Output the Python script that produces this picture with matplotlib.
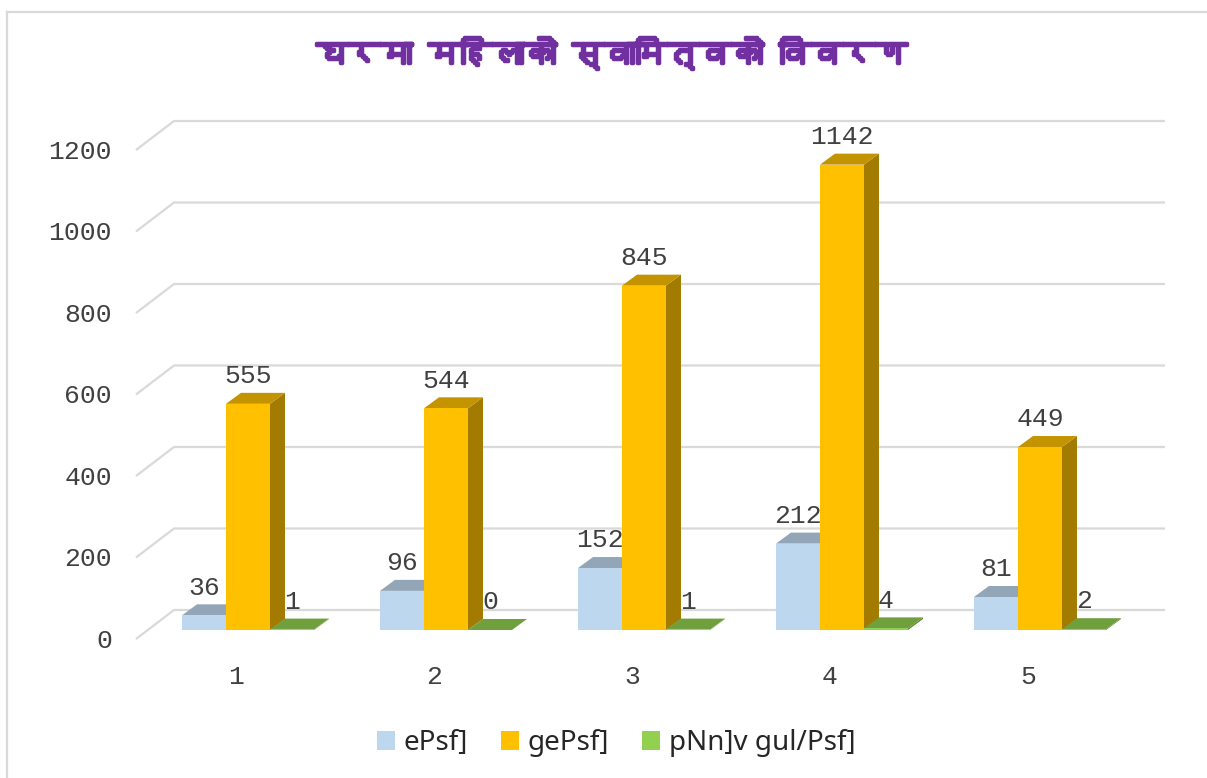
import matplotlib
matplotlib.use("Agg")
import matplotlib.pyplot as plt
import matplotlib.patheffects as pe
from matplotlib.patches import Polygon, Patch
from matplotlib.lines import Line2D
from matplotlib import font_manager, colors as mcolors

# --- data ---
title = "घरमा महिलाको स्वामित्वको विवरण"
categories = ["1", "2", "3", "4", "5"]
series_names = ["ePsf]", "gePsf]", "pNn]v gul/Psf]"]
series_1 = [36, 96, 152, 212, 81]
series_2 = [555, 544, 845, 1142, 449]
series_3 = [1, 0, 1, 4, 2]
series_colors = ["#BDD7EE", "#FFC000", "#92D050"]
yticks = [0, 200, 400, 600, 800, 1000, 1200]


def shade(c, f):
    r, g, b = mcolors.to_rgb(c)
    return (r * f, g * f, b * f)


def devanagari_family():
    # look for any installed font that carries Devanagari glyphs
    try:
        from fontTools.ttLib import TTFont
    except ImportError:
        return None
    for f in font_manager.fontManager.ttflist:
        try:
            cmap = TTFont(f.fname, fontNumber=0, lazy=True).getBestCmap()
        except Exception:
            continue
        if cmap and 0x0918 in cmap:
            return f.name
    return None


W, H = 1207, 778
fig = plt.figure(figsize=(W / 100, H / 100), dpi=100)

# front plane: v=0 at y=639px, v=1200 at y=150px; x spans 136..1165px
ax = fig.add_axes([136 / W, 1 - 639 / H, 1029 / W, 489 / H])
ax.set_xlim(-0.505, 4.692)
ax.set_ylim(0, 1200)
ax.axis("off")

px_cat = 198.0          # pixels per category
px_val = 489.0 / 1200   # pixels per value unit

# pseudo-3d offsets (data units)
bx, by = 12 / px_cat, 9 / px_val      # bars sit slightly behind the front edge
tx, ty = 15 / px_cat, 11 / px_val     # bar depth
wx, wy = 38 / px_cat, 29 / px_val     # back wall
bar_w = 44 / px_cat
x_left, x_right = -0.505, 4.5

grid_c = "#D9D9D9"
text_c = "#404040"
num_font = "Liberation Mono"
num_size = 19

for v in yticks:
    ax.plot([x_left, x_left + wx, x_right + wx], [v, v + wy, v + wy],
            color=grid_c, lw=1.6, clip_on=False, zorder=1, solid_capstyle="butt")
    ax.text(x_left - 24 / px_cat, v - 2 / px_val, str(v), ha="right", va="center",
            fontsize=num_size, color=text_c, family=num_font)

all_series = [series_1, series_2, series_3]
for i, cat in enumerate(categories):
    for j, vals in enumerate(all_series):
        v = vals[i]
        c = series_colors[j]
        x0 = i + bx + (j - 1.5) * bar_w
        base = by
        top = by + v
        side = Polygon([(x0 + bar_w, base), (x0 + bar_w, top),
                        (x0 + bar_w + tx, top + ty), (x0 + bar_w + tx, base + ty)],
                       closed=True, facecolor=shade(c, 0.64), edgecolor="none", zorder=3)
        topf = Polygon([(x0, top), (x0 + tx, top + ty),
                        (x0 + bar_w + tx, top + ty), (x0 + bar_w, top)],
                       closed=True, facecolor=shade(c, 0.77), edgecolor="none", zorder=3)
        front = Polygon([(x0, base), (x0, top), (x0 + bar_w, top), (x0 + bar_w, base)],
                        closed=True, facecolor=c, edgecolor="none", zorder=3)
        for p in (side, topf, front):
            ax.add_patch(p)
        ax.annotate(str(v), (x0 + bar_w / 2, top), xytext=(0, 20),
                    textcoords="offset points", ha="center", va="center",
                    fontsize=num_size, color=text_c, family=num_font, zorder=5)
    ax.annotate(cat, (i, 0), xytext=(0, -27), textcoords="offset points",
                ha="center", va="center", fontsize=num_size, color=text_c, family=num_font)

# title
dev = devanagari_family()
title_family = [dev, "DejaVu Sans"] if dev else ["DejaVu Sans"]
fig.text(612 / W, 1 - 53 / H, title, ha="center", va="center", color="#7030A0",
         fontsize=23, fontweight="bold", family=title_family,
         path_effects=[pe.withStroke(linewidth=2.5, foreground="#7030A0")])

# legend
handles = [Patch(facecolor=c, edgecolor="none") for c in series_colors]
fig.legend(handles, series_names, loc="center", bbox_to_anchor=(616 / W, 1 - 743 / H),
           ncol=3, frameon=False, prop={"family": "Noto Sans", "size": 20},
           labelcolor="#262626", handlelength=0.65, handleheight=0.65,
           handletextpad=0.3, columnspacing=1.2)

# chart border (top and left edges visible)
fig.add_artist(Line2D([7 / W, 7 / W], [0, 1 - 12 / H], transform=fig.transFigure,
                      color=grid_c, lw=1.6))
fig.add_artist(Line2D([7 / W, 1], [1 - 12 / H, 1 - 12 / H], transform=fig.transFigure,
                      color=grid_c, lw=1.6))

fig.savefig("out.png", dpi=100)
